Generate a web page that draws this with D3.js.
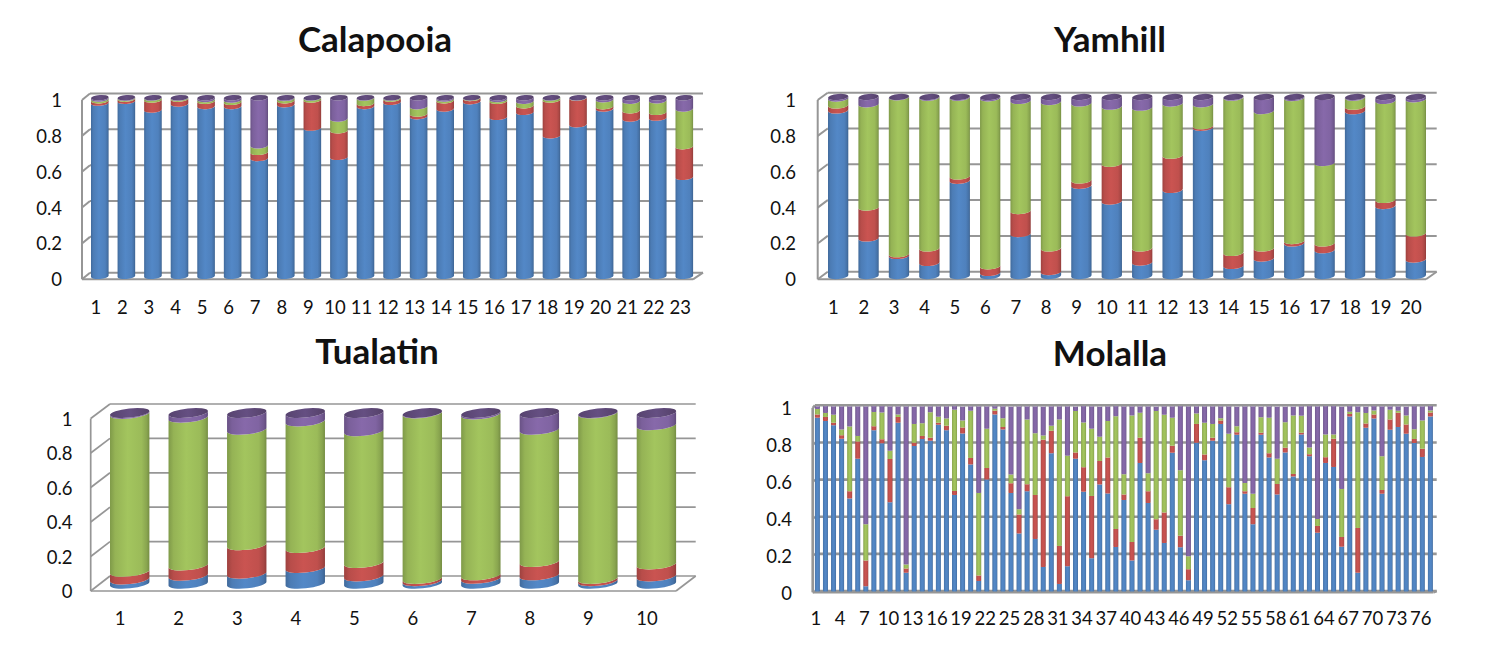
<!DOCTYPE html>
<html><head><meta charset="utf-8">
<script src="https://cdn.jsdelivr.net/npm/d3@7/dist/d3.min.js"></script>
<style>html,body{margin:0;padding:0;background:#fff}svg{display:block}text{font-family:Lato,"Open Sans",sans-serif;fill:#111}</style>
</head><body><svg id="c" width="1485" height="648"></svg>
<script>
const seriesNames = ["blue","red","green","purple"];
const seriesColors = ["#4f81bd","#c0504d","#9bbb59","#8064a2"];
const valueTicks = [0,0.2,0.4,0.6,0.8,1];

const calapooiaBlue = [.97,.98,.931,.965,.951,.951,.66,.961,.83,.666,.951,.974,.894,.937,.978,.89,.918,.787,.849,.937,.881,.886,.554];
const calapooiaRed = [.013,.012,.056,.027,.029,.023,.034,.022,.157,.149,.017,.018,.015,.046,.018,.09,.037,.2,.149,.013,.046,.032,.172];
const calapooiaGreen = [.01,.005,.011,.006,.01,.013,.037,.013,.011,.066,.03,.006,.041,.01,.003,.01,.025,.011,.001,.039,.053,.065,.211];
const calapooiaPurple = [.007,.003,.002,.002,.01,.013,.269,.004,.002,.119,.002,.002,.05,.007,.001,.01,.02,.002,.001,.011,.02,.017,.063];

const yamhillBlue = [.925,.21,.112,.073,.532,.017,.234,.022,.504,.416,.075,.481,.828,.056,.097,.182,.144,.921,.391,.092];
const yamhillRed = [.028,.172,.01,.081,.024,.037,.129,.132,.03,.211,.079,.191,.009,.073,.057,.013,.038,.025,.034,.146];
const yamhillGreen = [.038,.577,.876,.842,.44,.939,.615,.818,.43,.319,.786,.291,.122,.867,.767,.799,.449,.05,.553,.749];
const yamhillPurple = [.009,.041,.002,.004,.004,.007,.022,.028,.036,.054,.06,.037,.041,.004,.079,.006,.369,.004,.022,.013];

const tualatinBlue = [.025,.047,.059,.092,.043,.015,.029,.049,.015,.043];
const tualatinRed = [.045,.06,.166,.117,.078,.013,.02,.078,.013,.07];
const tualatinGreen = [.925,.866,.677,.742,.772,.97,.943,.775,.97,.815];
const tualatinPurple = [.005,.027,.098,.049,.107,.002,.008,.098,.002,.072];

const molallaBlue = [.939,.921,.898,.826,.503,.718,.029,.871,.801,.483,.912,.102,.786,.824,.815,.901,.871,.521,.854,.686,.057,.605,.957,.876,.533,.314,.542,.284,.133,.747,.041,.136,.718,.539,.18,.578,.53,.241,.494,.167,.695,.479,.334,.262,.75,.239,.061,.804,.709,.815,.906,.472,.847,.528,.363,.847,.725,.524,.752,.621,.849,.731,.318,.695,.673,.242,.946,.102,.885,.935,.528,.874,.889,.853,.803,.727,.946];
const molallaRed = [.018,.022,.014,.018,.039,.093,.138,.022,.022,.233,.031,.022,.018,.016,.016,.011,.025,.022,.032,.036,.029,.063,.02,.013,.052,.102,.038,.237,.687,.122,.205,.379,.034,.133,.336,.127,.194,.097,.031,.101,.136,.063,.057,.165,.038,.063,.059,.102,.031,.016,.018,.092,.014,.014,.088,.011,.022,.057,.025,.014,.009,.011,.036,.031,.153,.052,.013,.241,.023,.022,.02,.056,.077,.05,.022,.045,.022];
const molallaGreen = [.029,.022,.043,.032,.35,.029,.196,.077,.144,.045,.014,.022,.102,.07,.138,.032,.039,.44,.038,.255,.447,.212,.011,.048,.048,.029,.35,.334,.023,.027,.684,.219,.224,.241,.364,.131,.197,.609,.109,.684,.135,.097,.585,.528,.151,.354,.07,.056,.172,.074,.013,.289,.032,.045,.077,.084,.192,.136,.138,.316,.092,.036,.038,.122,.022,.26,.013,.626,.057,.022,.183,.052,.011,.048,.052,.153,.011];
const molallaPurple = [.014,.036,.045,.124,.108,.16,.637,.031,.034,.239,.043,.854,.093,.09,.031,.056,.065,.018,.075,.023,.467,.12,.013,.063,.366,.555,.07,.145,.156,.104,.07,.266,.023,.088,.12,.163,.079,.054,.366,.048,.034,.361,.023,.045,.061,.345,.81,.038,.088,.095,.063,.147,.106,.413,.472,.057,.061,.282,.084,.048,.05,.223,.608,.153,.153,.445,.029,.031,.034,.022,.269,.018,.023,.048,.124,.075,.022];

const charts = [
 {title:"Calapooia", data:[calapooiaBlue,calapooiaRed,calapooiaGreen,calapooiaPurple], tickEvery:1,
  titleX:375, titleY:37.5,
  front:{l:82,r:693,b:279.3,t:100}, back:{l:90,r:703,b:272.7,t:93.5},
  bars:{first:91,last:675.5,w:17.6,y0:276.3,y1:97.7,ry:2.7,tilt:4}, gridW:2,
  yLabelX:62, yLabelDy:0.5, xLabelY:307, xLabelDx:-4},
 {title:"Yamhill", data:[yamhillBlue,yamhillRed,yamhillGreen,yamhillPurple], tickEvery:1,
  titleX:1110, titleY:37.5,
  front:{l:817.7,r:1426,b:279.3,t:100}, back:{l:827.7,r:1436.7,b:271.7,t:92.7},
  bars:{first:828,last:1405.7,w:20.3,y0:276,y1:97,ry:3,tilt:5}, gridW:2,
  yLabelX:796, yLabelDy:0.5, xLabelY:307, xLabelDx:-4.8},
 {title:"Tualatin", data:[tualatinBlue,tualatinRed,tualatinGreen,tualatinPurple], tickEvery:1,
  titleX:377, titleY:349.5,
  front:{l:90.7,r:676,b:591,t:418.5}, back:{l:110,r:695.7,b:576,t:404},
  bars:{first:110,last:636.7,w:39.4,y0:583.7,y1:413,ry:4.6,tilt:6}, gridW:1.7,
  yLabelX:72.5, yLabelDy:1, xLabelY:618, xLabelDx:-9.5},
 {title:"Molalla", data:[molallaBlue,molallaRed,molallaGreen,molallaPurple], tickEvery:3,
  titleX:1110, titleY:351.5,
  front:{l:812.7,r:1433.5,b:592.3,t:408}, back:{l:815,r:1436.7,b:591,t:405.3},
  bars:{first:814.9,last:1427.9,w:5,y0:591,y1:406,ry:0.5,tilt:0}, gridW:2.6,
  yLabelX:792, yLabelDy:1, xLabelY:618, xLabelDx:-1.5}
];

const svg = d3.select("#c");
const defs = svg.append("defs");

seriesColors.forEach((c,i)=>{
  const base = d3.color(c);
  const g = defs.append("linearGradient").attr("id","g"+i).attr("x1",0).attr("x2",1).attr("y1",0).attr("y2",0);
  [[0,base.darker(.55)],[.13,base.darker(.12)],[.45,base.brighter(.14)],[.8,base],[.93,base.darker(.35)],[1,base.darker(.8)]]
   .forEach(s=>g.append("stop").attr("offset",s[0]).attr("stop-color",s[1].formatHex()));
});
const capGrad = defs.append("linearGradient").attr("id","cap").attr("x1",0).attr("x2",1).attr("y1",0).attr("y2",0);
[[0,"#57436f"],[.5,"#654f82"],[1,"#554169"]].forEach(s=>capGrad.append("stop").attr("offset",s[0]).attr("stop-color",s[1]));

const GRID = "#969696";

charts.forEach(ch=>{
  const g = svg.append("g");
  const n = ch.data[0].length;
  const cats = d3.range(1,n+1);
  const stackRows = cats.map((c,i)=>{const o={cat:c};seriesNames.forEach((s,k)=>o[s]=ch.data[k][i]);return o;});
  const stacked = d3.stack().keys(seriesNames)(stackRows);

  const B = ch.bars;
  const step = (B.last-B.first)/(n-1), gap = step-B.w;
  const x = d3.scaleBand().domain(cats).range([B.first-gap/2,B.last+B.w+gap/2]).paddingInner(gap/step).paddingOuter(gap/step/2);
  const y = d3.scaleLinear().domain([0,1]).range([B.y0,B.y1]);
  const yFront = d3.scaleLinear().domain([0,1]).range([ch.front.b,ch.front.t]);
  const yBack = d3.scaleLinear().domain([0,1]).range([ch.back.b,ch.back.t]);

  // title
  g.append("text").attr("x",ch.titleX).attr("y",ch.titleY).attr("text-anchor","middle").attr("dominant-baseline","central")
    .style("font-weight",700).style("font-size","35px").text(ch.title);

  // back wall gridlines and side-wall diagonals
  const walls = g.append("g").attr("stroke",GRID).attr("stroke-width",ch.gridW).attr("fill","none");
  walls.selectAll(".gl").data(valueTicks).join("line").attr("class","gl")
    .attr("x1",ch.back.l).attr("x2",ch.back.r).attr("y1",yBack).attr("y2",yBack);
  walls.selectAll(".dg").data(valueTicks).join("line").attr("class","dg")
    .attr("x1",ch.front.l).attr("x2",ch.back.l).attr("y1",yFront).attr("y2",yBack);
  walls.append("line").attr("x1",ch.front.l).attr("x2",ch.front.l).attr("y1",yFront(0)).attr("y2",yFront(1));
  walls.append("line").attr("x1",ch.front.l).attr("x2",ch.front.r).attr("y1",yFront(0)).attr("y2",yFront(0));
  walls.append("line").attr("x1",ch.front.r).attr("x2",ch.back.r).attr("y1",yFront(0)).attr("y2",yBack(0));

  // axis labels through d3 axes
  const yAxis = d3.axisLeft(yFront).tickValues(valueTicks).tickSize(0).tickPadding(0).tickFormat(d3.format("~g"));
  const ya = g.append("g").attr("transform",`translate(${ch.yLabelX},${ch.yLabelDy})`).call(yAxis);
  ya.select(".domain").remove();
  ya.selectAll("text").style("font-size","18.5px").style("font-family","Lato");
  const xAxis = d3.axisBottom(x).tickValues(cats.filter((c,i)=>i%ch.tickEvery===0)).tickSize(0).tickPadding(0);
  const xa = g.append("g").attr("transform",`translate(${ch.xLabelDx},${ch.xLabelY-9})`).call(xAxis);
  xa.select(".domain").remove();
  xa.selectAll("text").attr("dy",null).attr("y",9).attr("dominant-baseline","central").style("font-size","18.5px").style("font-family","Lato");

  // cylinders
  const th = B.tilt*Math.PI/180;
  const rx = (x.bandwidth()/2)/Math.cos(th);
  const dy = (x.bandwidth()/2)*Math.tan(th);
  const seg = (c,a,b)=>{
    const l=x(c), r=l+x.bandwidth(), ya=y(a), yb=y(b);
    return `M${l},${yb+dy}A${rx},${B.ry} ${-B.tilt} 0 0 ${r},${yb-dy}L${r},${ya-dy}A${rx},${B.ry} ${-B.tilt} 0 1 ${l},${ya+dy}Z`;
  };
  stacked.forEach((layer,k)=>{
    g.append("g").selectAll("path").data(layer).join("path")
      .attr("d",d=>seg(d.data.cat,d[0],d[1])).attr("fill",`url(#g${k})`);
  });
  if (B.ry>1) {
    g.append("g").selectAll("ellipse").data(cats).join("ellipse")
      .attr("cx",c=>x(c)+x.bandwidth()/2).attr("cy",y(1)).attr("rx",rx).attr("ry",B.ry)
      .attr("transform",c=>`rotate(${-B.tilt} ${x(c)+x.bandwidth()/2} ${y(1)})`).attr("fill","url(#cap)");
  }
});
</script></body></html>
